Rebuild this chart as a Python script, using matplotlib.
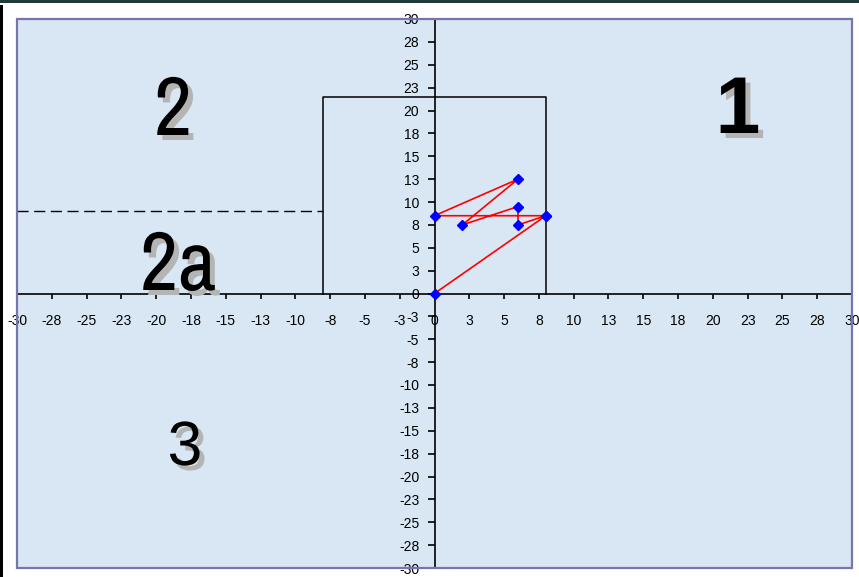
import math
import numpy as np
import matplotlib
matplotlib.use('Agg')
import matplotlib.pyplot as plt
import matplotlib.patheffects as pe
from matplotlib import font_manager as fm
from matplotlib.ticker import FixedLocator, FuncFormatter
from matplotlib.patches import Rectangle

plt.rcParams['font.family'] = ['Liberation Sans', 'DejaVu Sans']

# path of the points (drawn in this order)
path_x = [0, 8, 0, 6, 2, 6, 6, 8]
path_y = [0, 8.5, 8.5, 12.5, 7.5, 9.5, 7.5, 8.5]

# box around the points
box_x = [-8, -8, 8, 8]
box_y = [0, 21.5, 21.5, 0]

# dashed line in quadrant 2
dash_x = [-30, -8]
dash_y = [9, 9]

ticks = np.arange(-30, 30.01, 2.5)

# pick a narrow font for the "2" / "2a" labels if one is installed
narrow = None
for f in fm.fontManager.ttflist:
    if 'Narrow' in f.name and f.weight in (400, 'normal', 'regular') and f.style == 'normal':
        narrow = f.fname
        break
if narrow is None:
    for f in fm.fontManager.ttflist:
        if f.name == 'DejaVu Sans' and 'condensed' in str(f.stretch) and f.weight in (400, 'normal') \
                and f.style == 'normal':
            narrow = f.fname
            break
if narrow is not None:
    narrow_prop = fm.FontProperties(fname=narrow, size=60)
else:
    narrow_prop = fm.FontProperties(family=['Liberation Sans', 'DejaVu Sans'], size=52)

# quadrant labels: text, pixel x centre, pixel baseline, font
labels = [
    ('2', 173, 135, narrow_prop),
    ('2a', 178, 290, narrow_prop),
    ('1', 738, 133, fm.FontProperties(family=['Liberation Sans', 'DejaVu Sans'], weight='bold', size=58)),
    ('3', 185, 465, fm.FontProperties(family=['Liberation Sans', 'DejaVu Sans'], size=45)),
]

W, H = 859, 577
fig = plt.figure(figsize=(W / 100, H / 100), dpi=100)
fig.patch.set_facecolor('white')

# outer frame bits: dark top band and black left edge
fig.patches.append(Rectangle((0, 1 - 3 / H), 1, 3 / H, transform=fig.transFigure,
                             facecolor='#1d3b3b', edgecolor='none'))
fig.patches.append(Rectangle((0, 0), 3 / W, 1 - 5 / H, transform=fig.transFigure,
                             facecolor='black', edgecolor='none'))

ax = fig.add_axes([17 / W, (H - 568) / H, (852 - 17) / W, (568 - 19) / H])
ax.set_facecolor('#d9e7f4')
ax.set_xlim(-30, 30)
ax.set_ylim(-30, 30)

for s in ['top', 'right']:
    ax.spines[s].set_visible(False)
ax.spines['left'].set_position(('data', 0))
ax.spines['bottom'].set_position(('data', 0))
ax.spines['left'].set_linewidth(1.2)
ax.spines['bottom'].set_linewidth(1.2)

# plot area border
ax.add_patch(Rectangle((0, 0), 1, 1, transform=ax.transAxes, fill=False,
                       edgecolor='#7676aa', linewidth=1.6, clip_on=False, zorder=5))


def excel_round(v, pos):
    r = math.floor(abs(v) + 0.5)
    return str(int(math.copysign(r, v))) if r != 0 else '0'


ax.xaxis.set_major_locator(FixedLocator(ticks))
ax.yaxis.set_major_locator(FixedLocator(ticks))
ax.xaxis.set_major_formatter(FuncFormatter(excel_round))
ax.yaxis.set_major_formatter(FuncFormatter(excel_round))
ax.tick_params(axis='x', direction='out', length=3.5, width=1.2, pad=11, labelsize=10)
ax.tick_params(axis='y', direction='out', length=5, width=1.2, pad=6, labelsize=10)

ax.plot(box_x, box_y, color='black', lw=1.1, zorder=3)
ax.plot(dash_x, dash_y, color='black', lw=1.0, dashes=(8, 4), zorder=3)
ax.plot(path_x, path_y, color='red', lw=1.2, marker='D', markersize=5.5,
        markerfacecolor='blue', markeredgecolor='blue', zorder=4, clip_on=False)

# big quadrant numbers with grey drop shadow
shadow = [pe.SimplePatchShadow(offset=(3.6, -3.6), shadow_rgbFace='#b4b4b4', alpha=1.0), pe.Normal()]
for txt, px, py, prop in labels:
    fig.text(px / W, 1 - py / H, txt, fontproperties=prop, color='black',
             ha='center', va='baseline', path_effects=shadow)

fig.savefig('out.png', dpi=100)
